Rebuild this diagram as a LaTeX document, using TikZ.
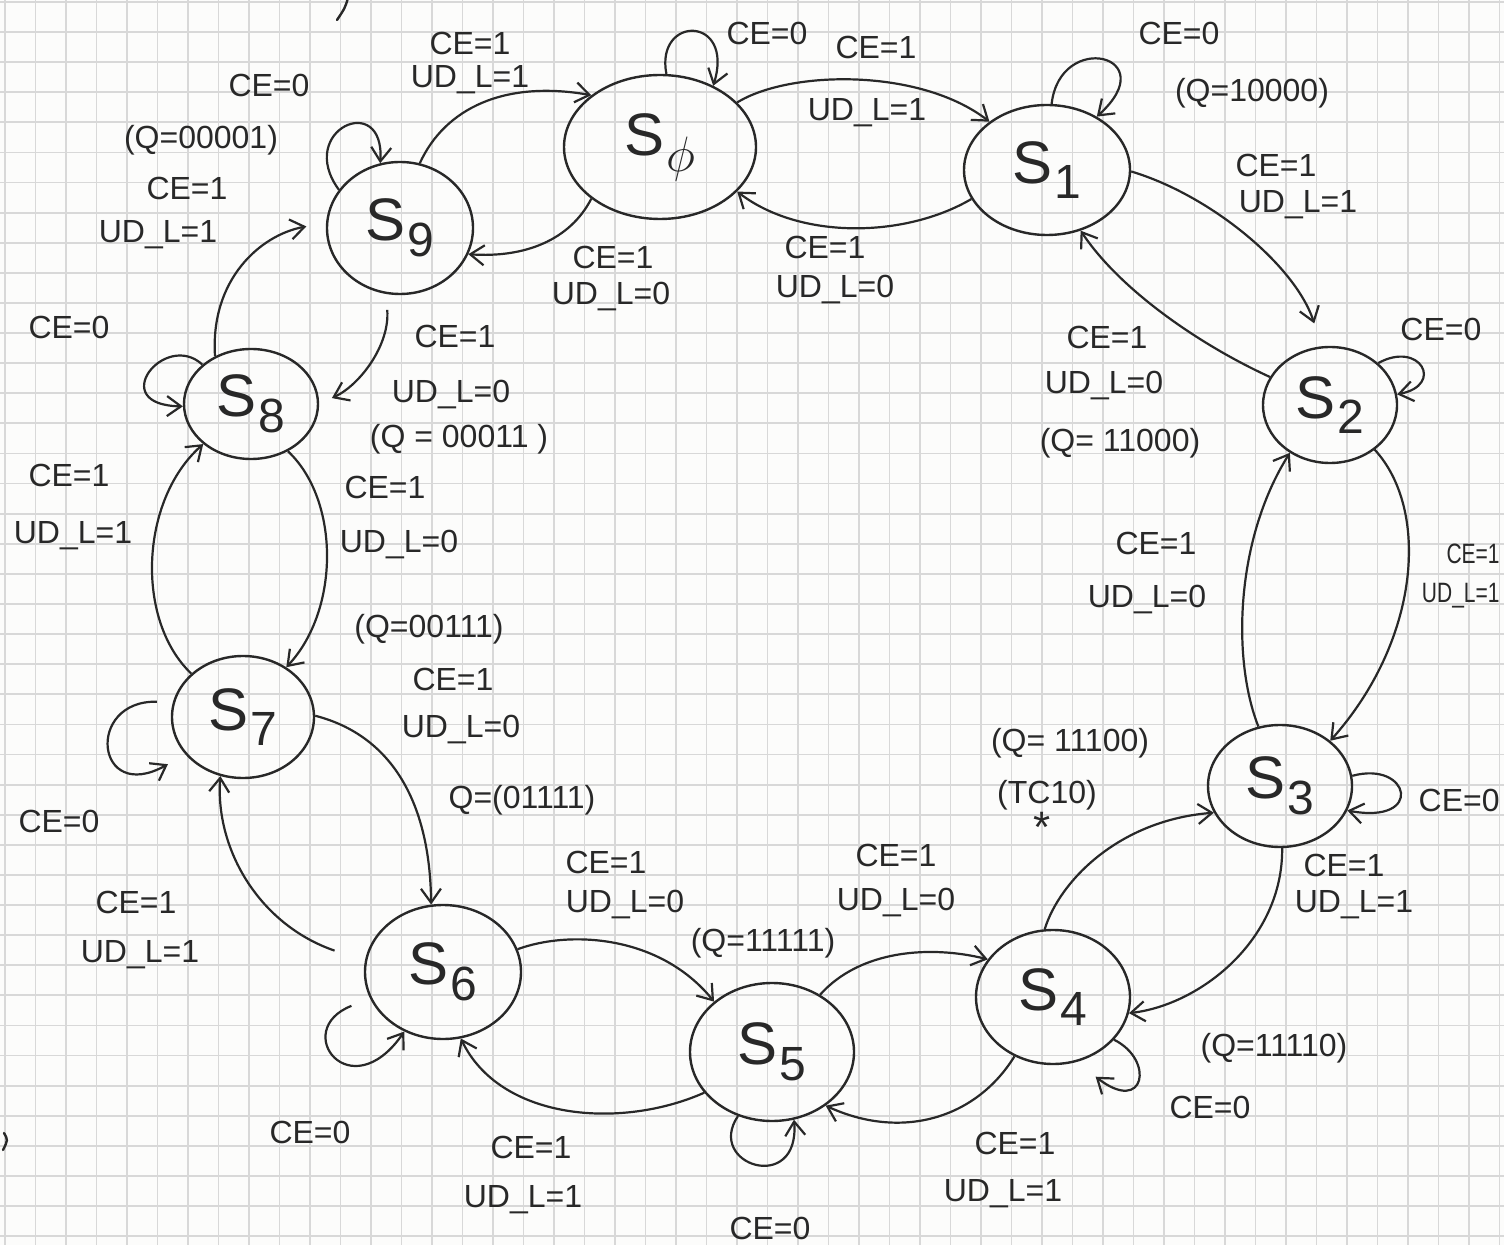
\documentclass[tikz,border=0pt]{standalone}
\usepackage{graphicx}
\usepackage{fontspec}
\setmainfont{Liberation Sans}
\usetikzlibrary{shapes.geometric,arrows.meta}

\definecolor{ink}{RGB}{40,40,40}
\definecolor{paper}{RGB}{252,252,251}
\definecolor{rule}{RGB}{216,216,216}

% state name: S with a lowered index
\newcommand{\stname}[1]{S\kern1pt\raisebox{-0.5ex}{\fontsize{24}{26}\selectfont #1}}
% narrow text for the tight margin on the right
\newcommand{\narrow}[1]{\scalebox{0.75}[1]{#1}}

\begin{document}
\begin{tikzpicture}[x=0.5pt,y=-0.5pt,
  state/.style={draw=ink, line width=1.2pt, ellipse, inner sep=0pt,
    text=ink, font=\fontsize{30}{34}\selectfont},
  lbl/.style={text=ink, inner sep=1pt, font=\fontsize{16}{18}\selectfont},
  arr/.style={draw=ink, line width=1.1pt,
    -{Straight Barb[length=7pt,width=10pt,line width=1.1pt]}},
  gridline/.style={draw=rule, line width=0.9pt},
  pen/.style={draw=ink, line width=1.2pt, line cap=round},
]
\useasboundingbox (0,0) rectangle (1504,1245);
\clip (0,0) rectangle (1504,1245);

% squared paper
\fill[paper] (0,0) rectangle (1504,1245);
\foreach \i in {0,...,49} \draw[gridline] ({5+30.5*\i},0) -- ({5+30.5*\i},1245);
\foreach \j in {0,...,41} \draw[gridline] (0,{2+30.1*\j}) -- (1504,{2+30.1*\j});

% pen marks at the edges of the sheet
\draw[pen] (348,-2) .. controls (345,8) .. (337,20);
\draw[pen] (4,1133) .. controls (8,1140) .. (3,1150);

% states
\node[state, minimum width=96pt, minimum height=72pt] (S0) at (660,147) {\stname{$\phi$}};
\node[state, minimum width=83pt, minimum height=65pt] (S1) at (1047,170) {\stname{1}};
\node[state, minimum width=67pt, minimum height=58pt] (S2) at (1330,405) {\stname{2}};
\node[state, minimum width=72pt, minimum height=61pt] (S3) at (1280,786) {\stname{3}};
\node[state, minimum width=77pt, minimum height=67pt] (S4) at (1053,997) {\stname{4}};
\node[state, minimum width=82pt, minimum height=69pt] (S5) at (772,1052) {\stname{5}};
\node[state, minimum width=78pt, minimum height=67pt] (S6) at (443,972) {\stname{6}};
\node[state, minimum width=71pt, minimum height=61pt] (S7) at (243,717) {\stname{7}};
\node[state, minimum width=67pt, minimum height=55pt] (S8) at (251,404) {\stname{8}};
\node[state, minimum width=73pt, minimum height=66pt] (S9) at (400,228) {\stname{9}};

% transitions between neighbouring states
\draw[arr] (S9.73) .. controls (445,108) and (505,80) .. (S0.143);
\draw[arr] (S0.217) .. controls (570,240) and (525,258) .. (S9.339);
\draw[arr] (S0.30) .. controls (790,70) and (920,68) .. (S1.140);
\draw[arr] (S1.201) .. controls (905,238) and (800,240) .. (S0.330);
\draw[arr, shorten >=12pt] (S1.359) .. controls (1210,195) and (1295,265) .. (S2.98);
\draw[arr] (S2.155) .. controls (1200,345) and (1120,290) .. (S1.299);
\draw[arr] (S2.315) .. controls (1430,510) and (1420,640) .. (S3.42);
\draw[arr] (S3.110) .. controls (1232,660) and (1235,540) .. (S2.230);
\draw[arr] (S3.272) .. controls (1283,940) and (1200,1005) .. (S4.348);
\draw[arr] (S4.97) .. controls (1060,880) and (1120,820) .. (S3.202);
\draw[arr] (S5.50) .. controls (860,950) and (930,945) .. (S4.150);
\draw[arr] (S4.237) .. controls (975,1120) and (900,1140) .. (S5.315);
\draw[arr] (S6.17) .. controls (570,930) and (660,935) .. (S5.139);
\draw[arr] (S5.211) .. controls (620,1130) and (500,1120) .. (S6.285);
\draw[arr] (S7.1) .. controls (390,735) and (430,800) .. (S6.100);
\draw[arr, shorten <=16pt] (S6.172) .. controls (260,925) and (215,850) .. (S7.249);
\draw[arr] (S8.308) .. controls (340,500) and (340,610) .. (S7.49);
\draw[arr] (S7.140) .. controls (135,620) and (140,500) .. (S8.220);
\draw[arr, shorten <=8pt, shorten >=7pt] (S9.258) .. controls (390,345) and (360,385) .. (S8.0);
\draw[arr, shorten >=10pt] (S8.127) .. controls (210,280) and (260,235) .. (S9.176);

% self loops (CE=0 holds the state)
\draw[arr] (S0.85) .. controls (655,15) and (735,15) .. (S0.49);
\draw[arr] (S1.86) .. controls (1060,30) and (1165,55) .. (S1.47);
\draw[arr] (S2.41) .. controls (1420,340) and (1445,385) .. (S2.9);
\draw[arr] (S3.8) .. controls (1410,760) and (1425,825) .. (S3.340);
\draw[arr, shorten >=12pt] (S4.325) .. controls (1155,1060) and (1145,1115) .. (S4.290);
\draw[arr] (S5.242) .. controls (705,1165) and (800,1195) .. (S5.288);
\draw[arr, shorten <=10pt] (S6.200) .. controls (290,1030) and (350,1110) .. (S6.237);
\draw[arr, shorten <=8pt, shorten >=10pt] (S7.168) .. controls (85,700) and (95,805) .. (S7.213);
\draw[arr] (S8.141) .. controls (165,330) and (105,405) .. (S8.182);
\draw[arr] (S9.148) .. controls (295,130) and (385,90) .. (S9.107);

% labels around S9 and S0
\node[lbl] (l1) at (470,43) {CE=1};
\node[lbl] (l2) at (470,80) {UD\_L=1};
\node[lbl] (l3) at (269,85) {CE=0};
\node[lbl] (l4) at (201,140) {(Q=00001)};
\node[lbl] (l5) at (187,188) {CE=1};
\node[lbl] (l6) at (158,235) {UD\_L=1};
\node[lbl] (l7) at (767,33) {CE=0};
\node[lbl] (l8) at (613,257) {CE=1};
\node[lbl] (l9) at (611,297) {UD\_L=0};

% labels around S1 and S2
\node[lbl] (l10) at (876,47) {CE=1};
\node[lbl] (l11) at (867,113) {UD\_L=1};
\node[lbl] (l12) at (825,247) {CE=1};
\node[lbl] (l13) at (835,290) {UD\_L=0};
\node[lbl] (l14) at (1179,33) {CE=0};
\node[lbl] (l15) at (1252,93) {(Q=10000)};
\node[lbl] (l16) at (1276,165) {CE=1};
\node[lbl] (l17) at (1298,205) {UD\_L=1};
\node[lbl, anchor=west] (l18) at (1398,329) {CE=0};
\node[lbl] (l19) at (1107,337) {CE=1};
\node[lbl] (l20) at (1104,386) {UD\_L=0};
\node[lbl] (l21) at (1120,443) {(Q= 11000)};

% labels around S3 and S4
\node[lbl] (l22) at (1156,543) {CE=1};
\node[lbl] (l23) at (1147,600) {UD\_L=0};
\node[lbl, anchor=east, font=\fontsize{14}{16}\selectfont] (l24) at (1502,554) {\narrow{CE=1}};
\node[lbl, anchor=east, font=\fontsize{14}{16}\selectfont] (l25) at (1502,596) {\narrow{UD\_L=1}};
\node[lbl] (l26) at (1070,743) {(Q= 11100)};
\node[lbl] (l27) at (1047,795) {(TC10)};
\node[lbl, font=\fontsize{22}{24}\selectfont] (l28) at (1042,827) {*};
\node[lbl, anchor=east] (l29) at (1502,800) {CE=0};
\node[lbl] (l30) at (1344,865) {CE=1};
\node[lbl] (l31) at (1354,905) {UD\_L=1};
\node[lbl] (l32) at (896,855) {CE=1};
\node[lbl] (l33) at (896,903) {UD\_L=0};
\node[lbl] (l34) at (1274,1048) {(Q=11110)};
\node[lbl] (l35) at (1210,1107) {CE=0};
\node[lbl] (l36) at (1015,1143) {CE=1};
\node[lbl] (l37) at (1003,1194) {UD\_L=1};

% labels around S5 and S6
\node[lbl] (l38) at (763,943) {(Q=11111)};
\node[lbl] (l39) at (606,862) {CE=1};
\node[lbl] (l40) at (625,905) {UD\_L=0};
\node[lbl] (l41) at (770,1228) {CE=0};
\node[lbl] (l42) at (531,1147) {CE=1};
\node[lbl] (l43) at (523,1200) {UD\_L=1};
\node[lbl] (l44) at (310,1132) {CE=0};
\node[lbl] (l45) at (136,902) {CE=1};
\node[lbl] (l46) at (140,955) {UD\_L=1};

% labels around S7 and S8
\node[lbl] (l47) at (59,821) {CE=0};
\node[lbl] (l48) at (522,800) {Q=(01111)};
\node[lbl] (l49) at (429,629) {(Q=00111)};
\node[lbl] (l50) at (453,679) {CE=1};
\node[lbl] (l51) at (461,730) {UD\_L=0};
\node[lbl] (l52) at (69,475) {CE=1};
\node[lbl] (l53) at (73,536) {UD\_L=1};
\node[lbl] (l54) at (385,487) {CE=1};
\node[lbl] (l55) at (399,545) {UD\_L=0};
\node[lbl] (l56) at (69,327) {CE=0};
\node[lbl] (l57) at (455,336) {CE=1};
\node[lbl] (l58) at (451,395) {UD\_L=0};
\node[lbl] (l59) at (459,439) {(Q = 00011 )};
\end{tikzpicture}
\end{document}
